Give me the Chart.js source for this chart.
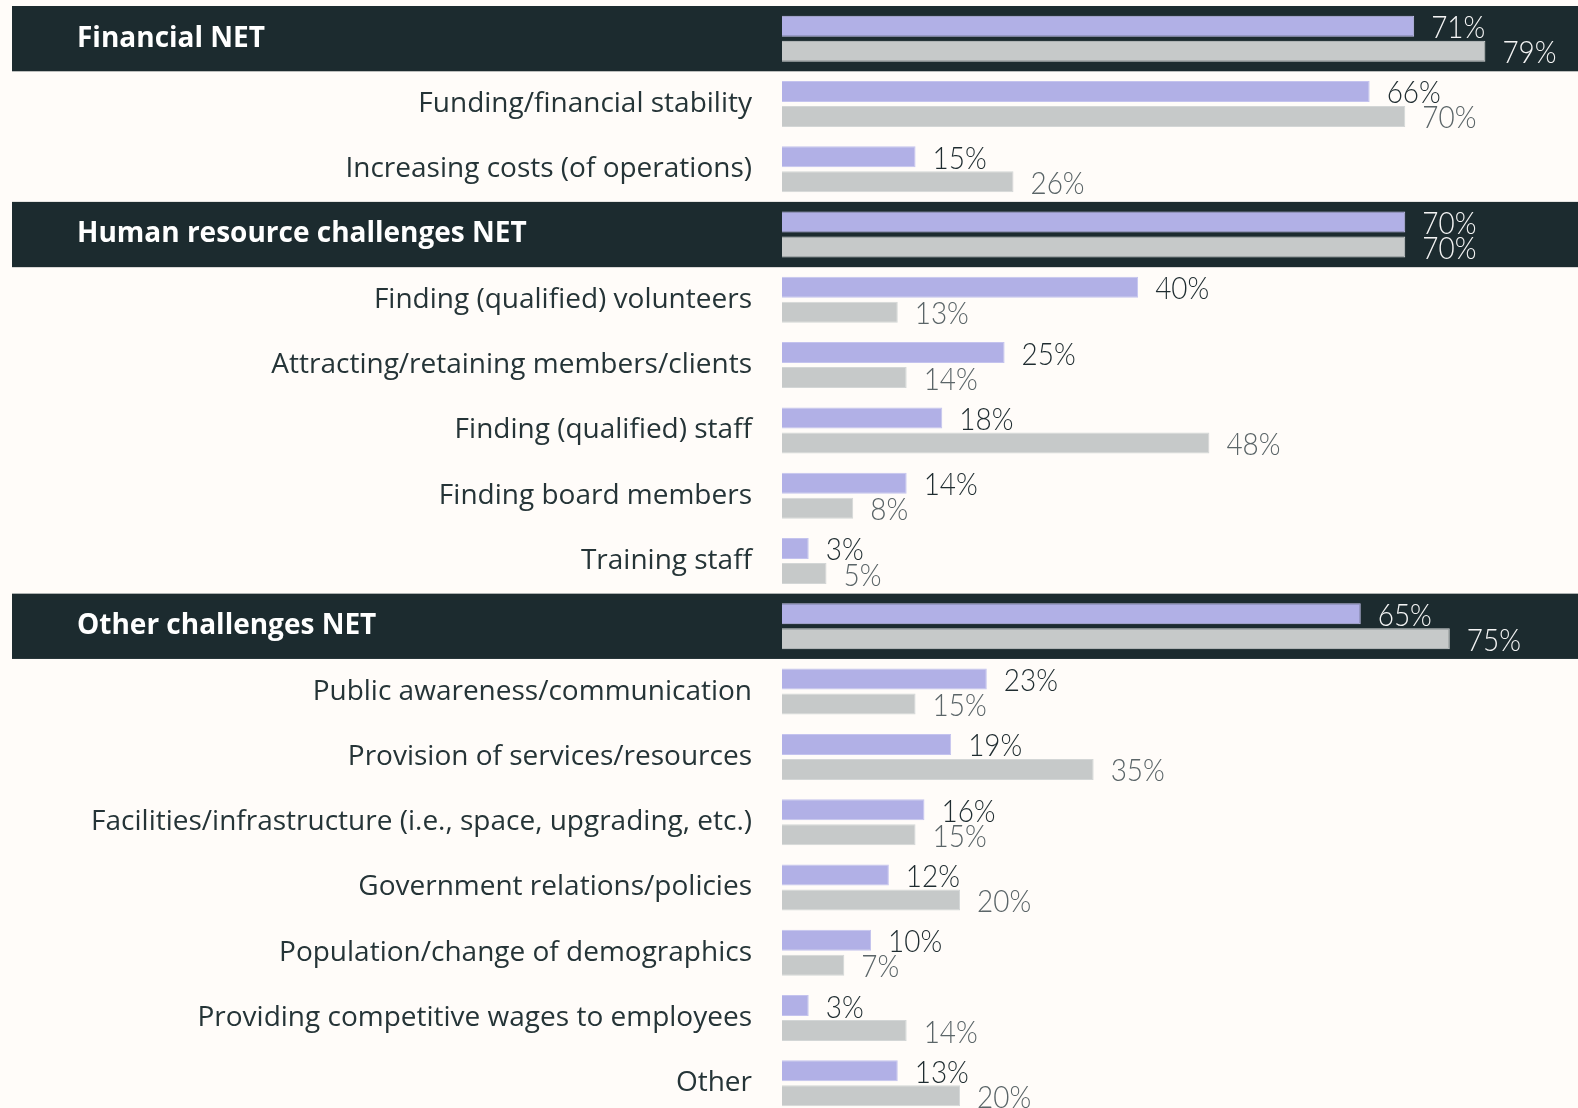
<!DOCTYPE html>
<html>
<head>
<meta charset="utf-8">
<script src="https://cdn.jsdelivr.net/npm/chart.js@4"></script>
<style>
  html, body { margin: 0; padding: 0; background: #fffcf9; overflow: hidden; }
  canvas { display: block; }
</style>
</head>
<body>
<canvas id="chart-challenges" width="1578" height="1116"></canvas>
<script>
let categories = [
  "Financial NET",
  "Funding/financial stability",
  "Increasing costs (of operations)",
  "Human resource challenges NET",
  "Finding (qualified) volunteers",
  "Attracting/retaining members/clients",
  "Finding (qualified) staff",
  "Finding board members",
  "Training staff",
  "Other challenges NET",
  "Public awareness/communication",
  "Provision of services/resources",
  "Facilities/infrastructure (i.e., space, upgrading, etc.)",
  "Government relations/policies",
  "Population/change of demographics",
  "Providing competitive wages to employees",
  "Other",
];

let netRows = [0, 3, 9];

let purpleValues = [71, 66, 15, 70, 40, 25, 18, 14, 3, 65, 23, 19, 16, 12, 10, 3, 13];
let grayValues = [79, 70, 26, 70, 13, 14, 48, 8, 5, 75, 15, 35, 15, 20, 7, 14, 20];

let labelFont = "'Open Sans', 'Noto Sans', sans-serif";
let valueFont = "Lato, 'Noto Sans', sans-serif";

// dark bands behind the NET rows + their bold labels, then the % labels
let netBands = {
  id: "netBands",
  beforeDatasetsDraw: function (chart) {
    let ctx = chart.ctx;
    let y = chart.scales.y;
    let half = (y.getPixelForValue(1) - y.getPixelForValue(0)) / 2;
    ctx.save();
    netRows.forEach(function (i) {
      let cy = y.getPixelForValue(i);
      ctx.fillStyle = "#1c2b2f";
      ctx.fillRect(12, cy - half, 1566, half * 2);
      ctx.fillStyle = "#ffffff";
      ctx.font = "bold 28px " + labelFont;
      ctx.textAlign = "left";
      ctx.textBaseline = "middle";
      ctx.fillText(categories[i], 77, cy);
    });
    ctx.restore();
  },
  afterDatasetsDraw: function (chart) {
    let ctx = chart.ctx;
    ctx.save();
    ctx.textAlign = "left";
    ctx.textBaseline = "middle";
    ctx.font = "300 31px " + valueFont;
    chart.data.datasets.forEach(function (ds, d) {
      let meta = chart.getDatasetMeta(d);
      meta.data.forEach(function (bar, i) {
        let isNet = netRows.indexOf(i) >= 0;
        ctx.fillStyle = isNet ? "#f4f4f4" : (d === 0 ? "#1f2c30" : "#5b6568");
        ctx.save();
        ctx.translate(bar.x + 17, bar.y + 2);
        ctx.scale(0.9, 1);
        ctx.fillText(ds.data[i] + "%", 0, 0);
        ctx.restore();
      });
    });
    ctx.restore();
  },
};

let chartDraw = function () {
  let ctx = document.getElementById("chart-challenges").getContext("2d");

  new Chart(ctx, {
    type: "bar",
    data: {
      labels: categories,
      datasets: [
        {
          data: purpleValues,
          backgroundColor: "#b1b0e6",
          borderColor: "#c4c3ee",
          borderWidth: 1,
          categoryPercentage: 0.766,
          barPercentage: 0.84,
        },
        {
          data: grayValues,
          backgroundColor: "#c6c9c9",
          borderColor: "#d3d6d6",
          borderWidth: 1,
          categoryPercentage: 0.766,
          barPercentage: 0.84,
        },
      ],
    },
    options: {
      indexAxis: "y",
      responsive: false,
      animation: false,
      layout: {
        padding: { top: 6, bottom: 0, left: 0, right: 0 },
      },
      plugins: {
        legend: { display: false },
        tooltip: { enabled: false },
      },
      scales: {
        x: {
          display: false,
          min: 0,
          max: 89.4,
        },
        y: {
          afterFit: function (axis) {
            axis.width = 782;
            axis.paddingTop = 0;
            axis.paddingBottom = 0;
          },
          grid: { display: false, drawTicks: false },
          border: { display: false },
          ticks: {
            padding: 30,
            color: "#253437",
            font: { family: labelFont, size: 28 },
            callback: function (value, index) {
              return netRows.indexOf(index) >= 0 ? "" : categories[index];
            },
          },
        },
      },
    },
    plugins: [netBands],
  });
};

window.onload = function () {
  chartDraw();
};
</script>
</body>
</html>
